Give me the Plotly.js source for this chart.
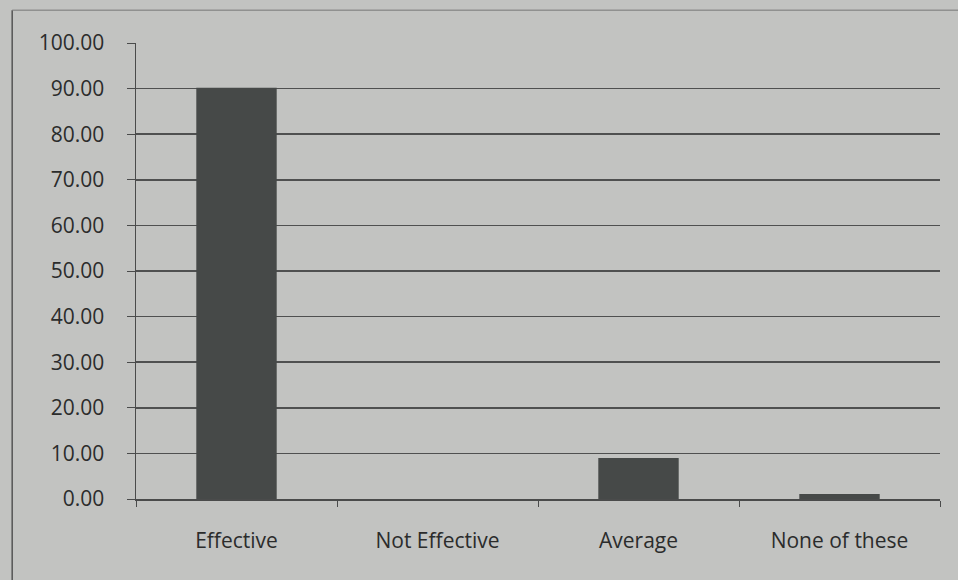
<!DOCTYPE html>
<html>
<head>
<meta charset="utf-8">
<script src="https://cdn.plot.ly/plotly-3.0.1.min.js"></script>
<style>html,body{margin:0;padding:0;background:#c2c3c1;}#chart{width:958px;height:580px;}</style>
</head>
<body>
<div id="chart"></div>
<script>
const categories = ["Effective", "Not Effective", "Average", "None of these"];
const values = [90.2, 0, 9.0, 1.1];
const yTickValues = [0, 10, 20, 30, 40, 50, 60, 70, 80, 90, 100];

const trace = {
  type: "bar",
  x: categories,
  y: values,
  marker: {color: "#464948", line: {width: 0}},
  hoverinfo: "x+y"
};

const layout = {
  width: 958,
  height: 580,
  paper_bgcolor: "#c2c3c1",
  plot_bgcolor: "#c2c3c1",
  margin: {l: 136, r: 18, t: 43, b: 81},
  bargap: 0.6,
  showlegend: false,
  font: {family: "Open Sans, Liberation Sans, sans-serif", size: 21, color: "#2b2c2c"},
  xaxis: {
    type: "category",
    showgrid: false,
    zeroline: false,
    showline: true,
    linecolor: "#4a4b4b",
    linewidth: 1.5,
    ticks: "outside",
    tickson: "boundaries",
    ticklen: 6,
    tickcolor: "#4a4b4b",
    tickfont: {size: 21},
    ticklabelstandoff: 22
  },
  yaxis: {
    range: [0, 100],
    tickvals: yTickValues,
    ticktext: yTickValues.map(v => v.toFixed(2)),
    showgrid: true,
    gridcolor: "#4f5050",
    gridwidth: 1.5,
    zeroline: false,
    showline: true,
    linecolor: "#4a4b4b",
    linewidth: 1.5,
    ticks: "outside",
    ticklen: 8,
    tickcolor: "#4a4b4b",
    tickfont: {size: 21},
    ticklabelstandoff: 18
  },
  shapes: [
    {type: "line", xref: "paper", yref: "paper", x0: -0.154, x1: -0.154, y0: -0.2, y1: 1.072, line: {color: "#555", width: 1.5}},
    {type: "line", xref: "paper", yref: "paper", x0: -0.154, x1: 1.03, y0: 1.072, y1: 1.072, line: {color: "#777", width: 1}}
  ]
};

Plotly.newPlot("chart", [trace], layout, {displayModeBar: false, staticPlot: true});
</script>
</body>
</html>
